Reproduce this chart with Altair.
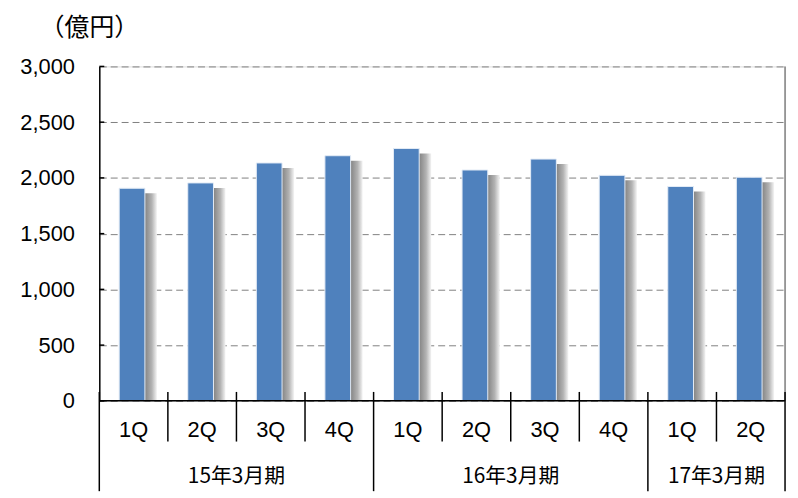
import altair as alt
import pandas as pd

# ---- data ----
quarters = ["1Q", "2Q", "3Q", "4Q", "1Q", "2Q", "3Q", "4Q", "1Q", "2Q"]
values = [1907, 1955, 2134, 2199, 2264, 2071, 2169, 2023, 1923, 2006]
years = ["15年3月期", "16年3月期", "17年3月期"]
year_start = [0, 4, 8]
year_end = [4, 8, 10]
y_ticks = [0, 500, 1000, 1500, 2000, 2500, 3000]
unit_title = ["（億円）"]

W, H = 691, 337
N = len(values)

bars_df = pd.DataFrame({"i": list(range(N)), "q": quarters, "v": values})
bars_df["xl"] = bars_df["i"] + 0.29
bars_df["xr"] = bars_df["i"] + 0.665
bars_df["sl"] = bars_df["i"] + 0.655
bars_df["sr"] = bars_df["i"] + 0.84
bars_df["xc"] = bars_df["i"] + 0.5
bars_df["zero"] = 0

years_df = pd.DataFrame({"y": years, "s": year_start, "e": year_end})
years_df["xc"] = (years_df["s"] + years_df["e"]) / 2

year_bounds = sorted(set(year_start + year_end))
q_bounds = [b for b in range(1, N) if b not in year_bounds]
qsep_df = pd.DataFrame({"x": q_bounds})
ysep_df = pd.DataFrame({"x": year_bounds})
ticks_df = pd.DataFrame({"t": y_ticks, "z": [0] * len(y_ticks)})
edge_df = pd.DataFrame({"x0": [0], "x1": [N]})
title_df = pd.DataFrame({"t": unit_title})

xs = alt.Scale(domain=[0, N], nice=False, zero=False)
ys = alt.Scale(domain=[0, 3000], nice=False)

y_axis = alt.Axis(
    values=y_ticks, format=",d", labelFont="Liberation Sans", labelFontSize=22,
    labelColor="black", labelPadding=25, labelOverlap=False, ticks=False,
    domainColor="black", domainWidth=1.5,
    grid=True, gridColor="#808080", gridDash=[7, 4], gridWidth=1,
    title=None,
)

grad = alt.Gradient(
    gradient="linear", x1=0, x2=1, y1=0, y2=0,
    stops=[alt.GradientStop(offset=0, color="#7f7f7f"),
           alt.GradientStop(offset=0.6, color="#b3b3b3"),
           alt.GradientStop(offset=1, color="#f4f4f4")],
)

shadow = alt.Chart(bars_df).mark_rect(color=grad, yOffset=5).encode(
    x=alt.X("sl:Q", scale=xs, axis=None),
    x2="sr:Q",
    y=alt.Y("v:Q", scale=ys, axis=y_axis),
    y2="zero:Q",
)

bars = alt.Chart(bars_df).mark_rect(
    color="#4F81BD", stroke="#e4ecf6", strokeWidth=1
).encode(
    x=alt.X("xl:Q", scale=xs, axis=None),
    x2="xr:Q",
    y=alt.Y("v:Q", scale=ys, axis=y_axis),
    y2="zero:Q",
)

right_border = alt.Chart(edge_df).mark_rule(color="#808080", strokeWidth=1.5).encode(
    x=alt.X("x1:Q", scale=xs, axis=None), y=alt.value(0), y2=alt.value(H)
)

x_line = alt.Chart(edge_df).mark_rule(color="black", strokeWidth=1.5).encode(
    x=alt.X("x0:Q", scale=xs, axis=None), x2="x1:Q", y=alt.value(H)
)

inner_ticks = alt.Chart(ticks_df).mark_rule(color="black", strokeWidth=1.5, x2Offset=5).encode(
    x=alt.X("z:Q", scale=xs, axis=None), x2="z:Q",
    y=alt.Y("t:Q", scale=ys, axis=y_axis),
)

qsep = alt.Chart(qsep_df).mark_rule(color="black", strokeWidth=1.5).encode(
    x=alt.X("x:Q", scale=xs, axis=None), y=alt.value(H - 9), y2=alt.value(H + 41)
)

ysep = alt.Chart(ysep_df).mark_rule(color="black", strokeWidth=1.5).encode(
    x=alt.X("x:Q", scale=xs, axis=None), y=alt.value(H - 9), y2=alt.value(H + 91)
)

q_text = alt.Chart(bars_df).mark_text(
    font="Liberation Sans", fontSize=22, color="black", baseline="middle", align="center"
).encode(
    x=alt.X("xc:Q", scale=xs, axis=None), y=alt.value(H + 29), text="q:N"
)

y_text = alt.Chart(years_df).mark_text(
    font="Noto Sans CJK JP", fontSize=21, color="black", baseline="middle", align="center"
).encode(
    x=alt.X("xc:Q", scale=xs, axis=None), y=alt.value(H + 77), text="y:N"
)

title_text = alt.Chart(title_df).mark_text(
    font="Noto Sans CJK JP", fontSize=25, fontWeight="normal", color="black",
    baseline="middle", align="center"
).encode(
    x=alt.value(-10), y=alt.value(-39), text="t:N"
)

chart = alt.layer(
    shadow, bars, right_border, x_line, inner_ticks, qsep, ysep, q_text, y_text, title_text
).properties(
    width=W, height=H,
    autosize=alt.AutoSizeParams(type="none"),
    padding={"left": 92, "top": 57, "right": 5, "bottom": 95},
).configure_view(stroke=None).configure(background="white")

chart.save("out.html", embed_options={"renderer": "svg", "actions": False})
